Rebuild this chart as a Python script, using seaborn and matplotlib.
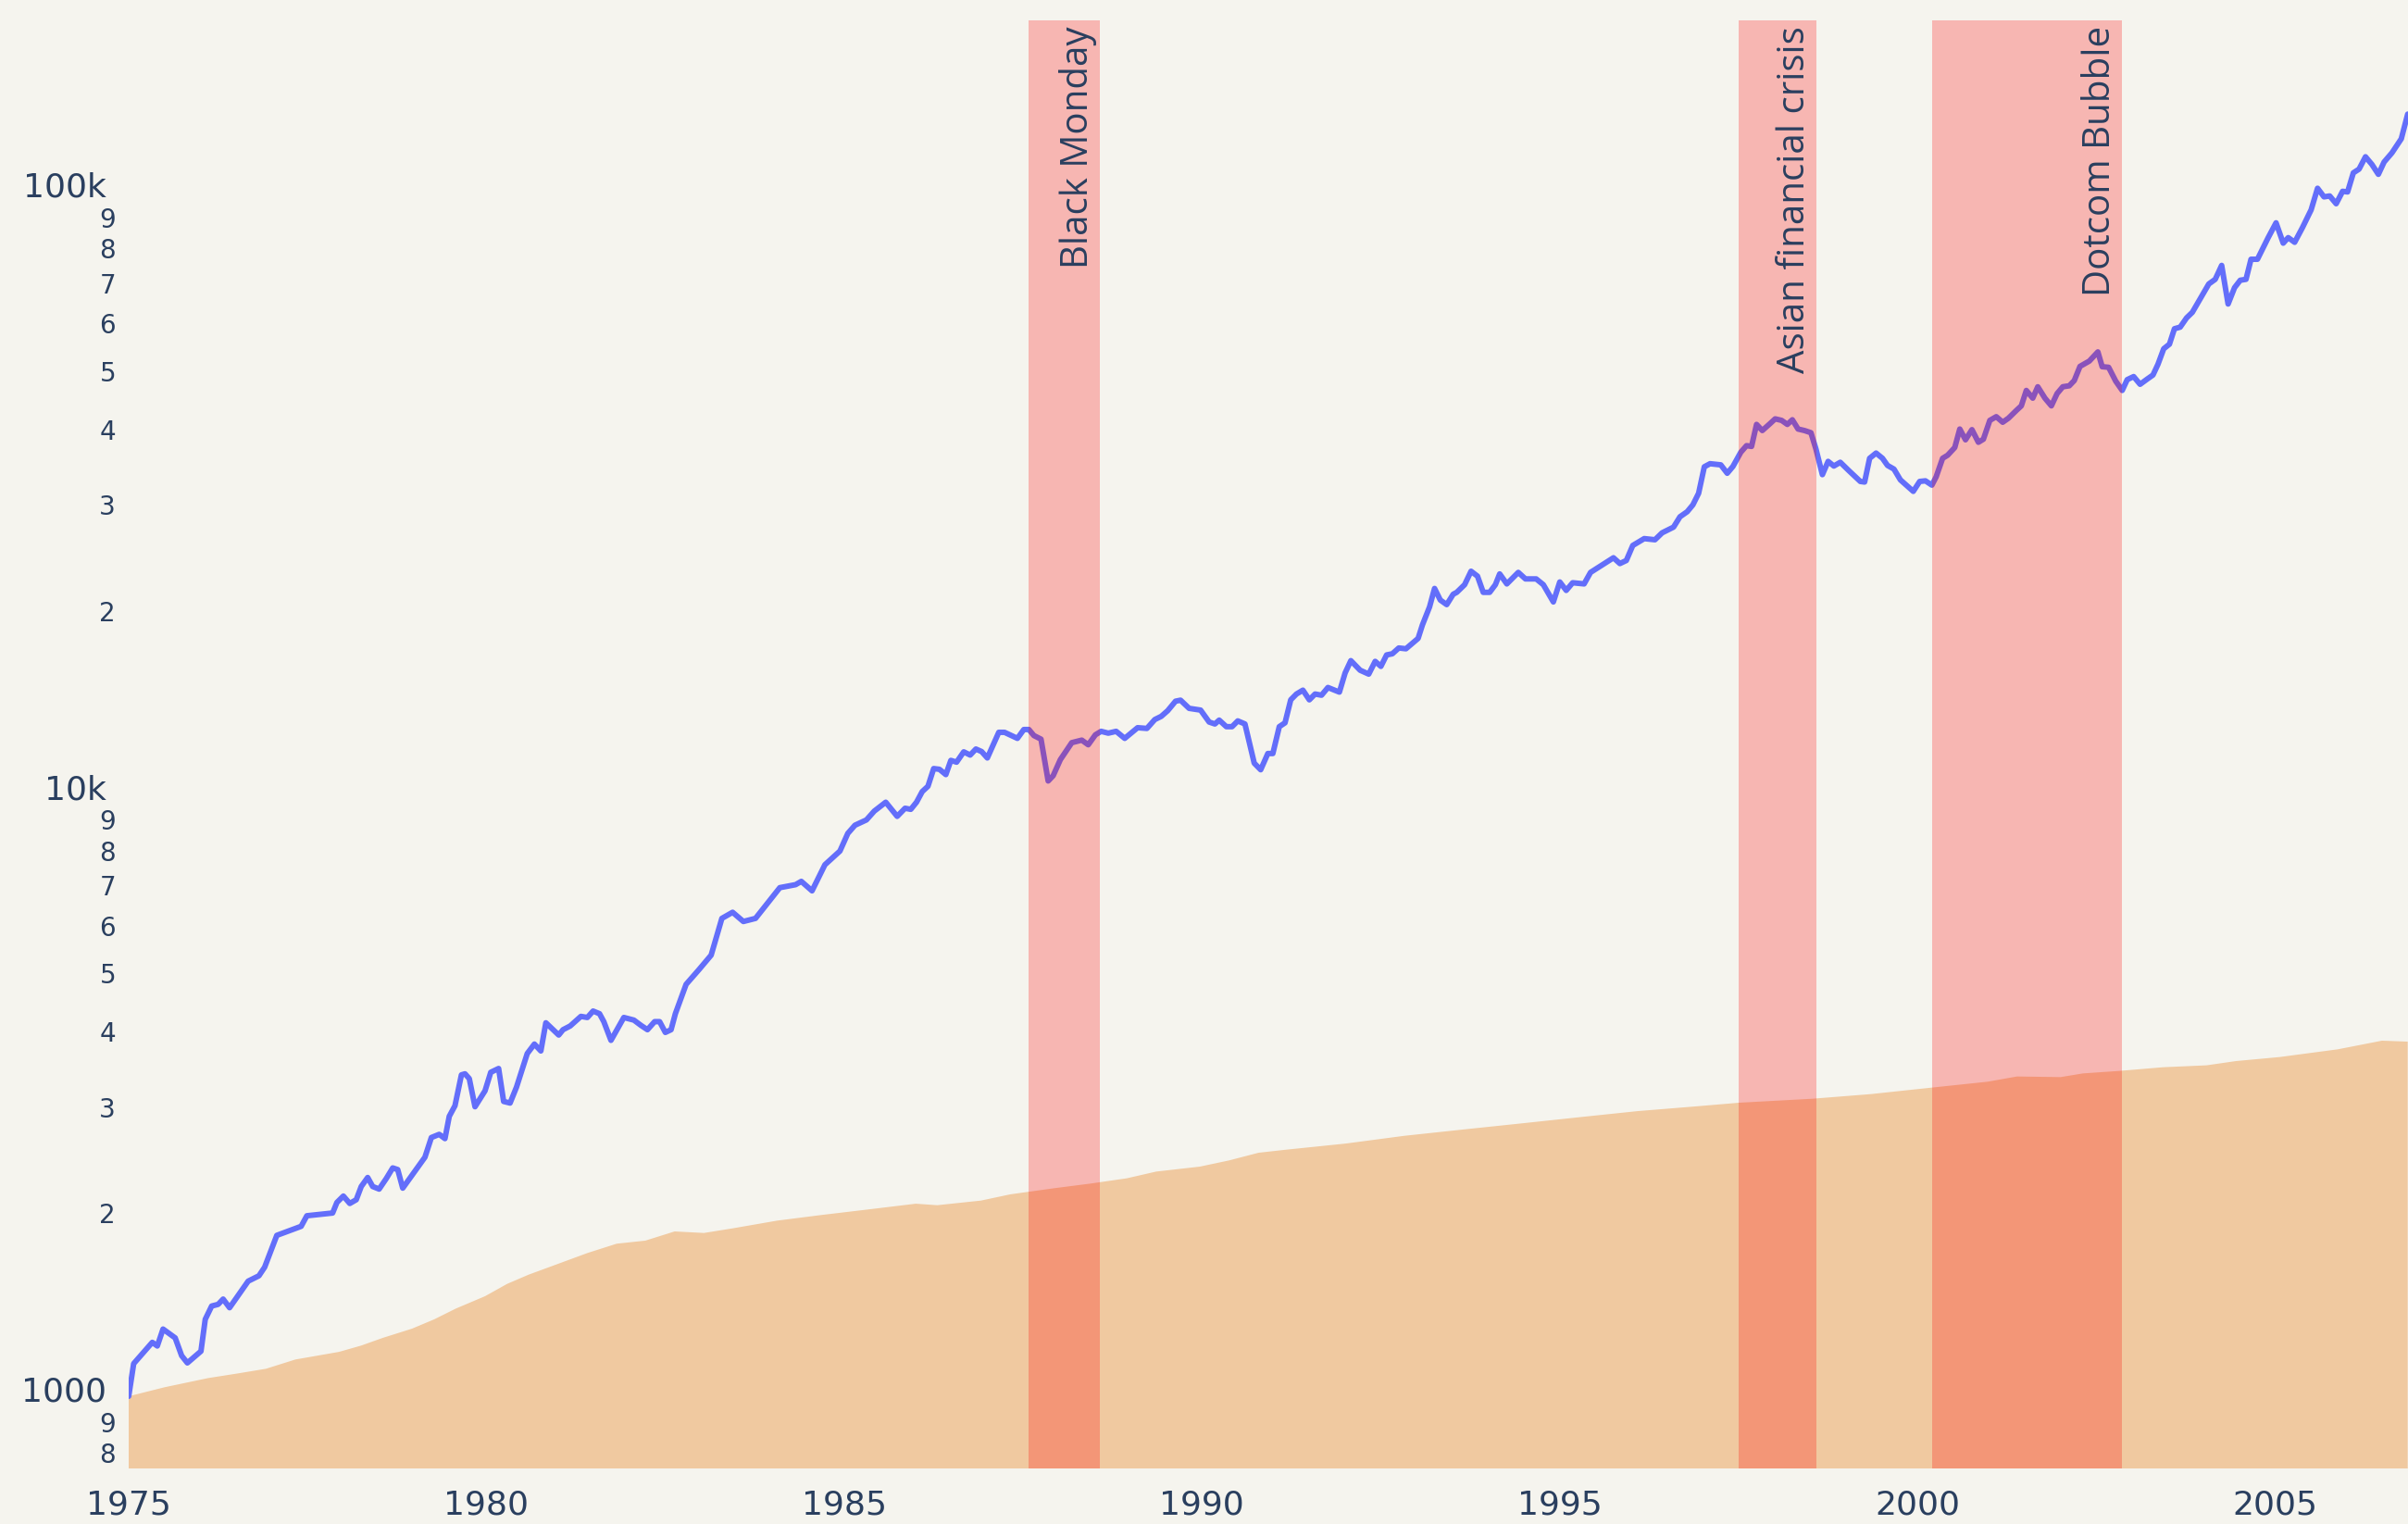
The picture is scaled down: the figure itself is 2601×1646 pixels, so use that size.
import matplotlib
matplotlib.use("Agg")
import matplotlib.pyplot as plt
from matplotlib.ticker import FixedLocator, FixedFormatter
from matplotlib.transforms import ScaledTranslation
import seaborn as sns
import pandas as pd

# ---------------- data ----------------
portfolio_years = [
    1975.00, 1975.07, 1975.33, 1975.40, 1975.48, 1975.65, 1975.74, 1975.82, 1976.01, 1976.07,
    1976.16, 1976.25, 1976.32, 1976.41, 1976.67, 1976.82, 1976.90, 1977.07, 1977.41, 1977.49,
    1977.85, 1977.91, 1978.00, 1978.09, 1978.18, 1978.25, 1978.34, 1978.41, 1978.50, 1978.60,
    1978.69, 1978.76, 1978.83, 1979.14, 1979.23, 1979.34, 1979.42, 1979.48, 1979.56, 1979.65,
    1979.70, 1979.76, 1979.84, 1979.98, 1980.06, 1980.17, 1980.24, 1980.33, 1980.42, 1980.57,
    1980.67, 1980.76, 1980.83, 1981.01, 1981.07, 1981.17, 1981.32, 1981.41, 1981.49, 1981.58,
    1981.64, 1981.74, 1981.92, 1982.06, 1982.16, 1982.25, 1982.35, 1982.42, 1982.50, 1982.58,
    1982.64, 1982.79, 1982.97, 1983.14, 1983.29, 1983.44, 1983.59, 1983.76, 1983.93, 1984.10,
    1984.32, 1984.40, 1984.55, 1984.73, 1984.94,
    1985.05, 1985.15, 1985.31, 1985.42, 1985.58, 1985.74, 1985.85, 1985.93, 1986.01, 1986.09,
    1986.17, 1986.25, 1986.33, 1986.42, 1986.49, 1986.57, 1986.67, 1986.76, 1986.84, 1986.92,
    1987.00, 1987.16, 1987.24, 1987.42, 1987.51, 1987.58, 1987.65, 1987.75, 1987.85, 1987.92,
    1988.02, 1988.18, 1988.32, 1988.41, 1988.51, 1988.59, 1988.69, 1988.80, 1988.92, 1989.10,
    1989.23, 1989.34, 1989.43, 1989.52, 1989.63, 1989.70, 1989.82, 1989.98,
    1990.10, 1990.18, 1990.24, 1990.34, 1990.42, 1990.50, 1990.60, 1990.73, 1990.82, 1990.92,
    1990.99, 1991.08, 1991.16, 1991.24, 1991.32, 1991.41, 1991.50, 1991.58, 1991.67, 1991.76,
    1991.92, 1992.00, 1992.08, 1992.21, 1992.33, 1992.42, 1992.50, 1992.58, 1992.66, 1992.75,
    1992.85, 1993.02, 1993.08, 1993.18, 1993.25, 1993.33, 1993.42, 1993.51, 1993.56, 1993.67,
    1993.76, 1993.85, 1993.93, 1994.02, 1994.10, 1994.16, 1994.26, 1994.42, 1994.52, 1994.67,
    1994.77, 1994.91, 1995.00, 1995.09, 1995.18, 1995.34, 1995.43, 1995.54, 1995.75, 1995.84,
    1995.93, 1996.02, 1996.18, 1996.33, 1996.43, 1996.59, 1996.68, 1996.78, 1996.86, 1996.94,
    1997.02, 1997.10, 1997.25, 1997.34, 1997.42, 1997.53, 1997.61, 1997.68,
    1997.75, 1997.83, 1997.94, 1998.01, 1998.10, 1998.18, 1998.25, 1998.33, 1998.42, 1998.51,
    1998.58, 1998.67, 1998.75, 1998.83, 1998.92, 1999.04, 1999.20, 1999.26, 1999.33, 1999.42,
    1999.51, 1999.58, 1999.67, 1999.76, 1999.94, 2000.03, 2000.11, 2000.20, 2000.26, 2000.35,
    2000.42, 2000.52, 2000.59, 2000.67, 2000.76, 2000.85, 2000.92, 2001.01, 2001.10, 2001.19,
    2001.27, 2001.38, 2001.45, 2001.52, 2001.61, 2001.68, 2001.78, 2001.87, 2001.95, 2002.03,
    2002.12, 2002.19, 2002.27, 2002.40, 2002.52, 2002.58, 2002.67, 2002.77, 2002.86, 2002.93,
    2003.02, 2003.11, 2003.21, 2003.29, 2003.36, 2003.44, 2003.52,
    2003.59, 2003.67, 2003.76, 2003.84, 2003.95, 2004.07, 2004.16, 2004.25, 2004.34, 2004.43,
    2004.51, 2004.59, 2004.66, 2004.75, 2004.90, 2005.01, 2005.11, 2005.18, 2005.27, 2005.38,
    2005.50, 2005.59, 2005.68, 2005.76, 2005.85, 2005.94, 2006.01, 2006.09, 2006.17, 2006.26,
    2006.35, 2006.44, 2006.52, 2006.63, 2006.76, 2006.85,
]
portfolio_values = [
    1000, 1133, 1229, 1212, 1293, 1250, 1168, 1136, 1188, 1342,
    1412, 1421, 1450, 1403, 1553, 1585, 1638, 1850, 1915, 1994,
    2015, 2098, 2150, 2090, 2120, 2230, 2308, 2230, 2208, 2299,
    2394, 2379, 2216, 2494, 2689, 2722, 2678, 2916, 3037, 3417,
    3431, 3368, 3025, 3215, 3451, 3501, 3087, 3068, 3261, 3707,
    3844, 3744, 4170, 3979, 4061, 4119, 4273, 4255, 4361, 4317,
    4188, 3899, 4255, 4213, 4128, 4061, 4188, 4188, 4019, 4061,
    4317, 4830, 5110, 5400, 6215, 6362, 6142, 6215, 6590, 6990,
    7070, 7160, 6906, 7630, 8040,
    8601, 8874, 9056, 9367, 9690, 9180, 9469, 9430, 9690, 10092,
    10299, 11020, 10990, 10770, 11370, 11294, 11748, 11605, 11875, 11760,
    11477, 12658, 12658, 12369, 12795, 12795, 12504, 12331, 10510, 10725,
    11402, 12168, 12286, 12070, 12539, 12706, 12618, 12706, 12369, 12884,
    12848, 13291, 13454, 13748, 14257, 14313, 13873, 13781,
    13166, 13069, 13263, 12935, 12935, 13223, 13069, 11250, 10971, 11673,
    11673, 12935, 13126, 14333, 14654, 14872, 14333, 14654, 14588, 15024,
    14762, 15884, 16648, 16049, 15813, 16602, 16289, 17017, 17092, 17474,
    17422, 18126, 19081, 20446, 21940, 20989, 20625, 21458, 21617, 22259,
    23433, 22994, 21617, 21617, 22259, 23195, 22326, 23330, 22756, 22756,
    22259, 20839, 22491, 21778, 22424, 22326, 23330, 23779, 24671, 24131,
    24416, 25858, 26546, 26430, 27139, 27739, 28859, 29416, 30203, 31563,
    34935, 35347, 35192, 34081, 34984, 36937, 37875, 37760,
    41078, 40125, 41220, 41958, 41716, 41078, 41813, 40357, 40125, 39794,
    37382, 33900, 35662, 35035, 35540, 34420, 33030, 32955, 36083, 36814,
    36083, 35116, 34627, 33228, 31804, 33030, 33105, 32567, 33620, 36083,
    36510, 37606, 40357, 38729, 40264, 38365, 38819, 41716, 42307, 41420,
    42064, 43322, 44098, 46774, 45415, 47436, 45415, 44098, 46217, 47436,
    47612, 48575, 51277, 52327, 54200, 51218, 51100, 48452, 46774, 48743,
    49319, 47886, 48856, 49615, 51704, 54853, 55821,
    59220, 59580, 61730, 63050, 66400, 70270, 71530, 75440, 65090, 69290,
    71280, 71530, 77230, 77230, 83890, 88780, 82130, 83890, 82410, 87220,
    93280, 101320, 98040, 98380, 95500, 100140, 99910, 107470, 109010, 114280,
    110960, 106860, 112010, 116020, 122400, 134520,
]

contrib_years = [
    1975.00, 1975.50, 1976.11, 1976.52, 1976.92, 1977.33, 1977.94, 1978.25, 1978.55, 1978.96,
    1979.27, 1979.57, 1979.98, 1980.29, 1980.59, 1981.00, 1981.41, 1981.82, 1982.22, 1982.63,
    1983.04, 1983.45, 1984.06, 1984.67, 1985.28, 1986.00, 1986.30, 1986.91, 1987.32, 1987.93,
    1988.44, 1988.95, 1989.36, 1989.97, 1990.38, 1990.79, 1991.19, 1992.01, 1992.83, 1993.64,
    1994.46, 1995.27, 1996.09, 1996.90, 1997.51, 1998.53, 1999.35, 2000.16, 2000.98, 2001.39,
    2002.00, 2002.31, 2002.82, 2003.43, 2004.04, 2004.45, 2005.06, 2005.87, 2006.49, 2006.85,
]
contrib_values = [
    1000, 1035, 1072, 1091, 1111, 1151, 1185, 1214, 1250, 1295,
    1342, 1398, 1466, 1537, 1592, 1659, 1729, 1792, 1813, 1878,
    1867, 1901, 1957, 1999, 2039, 2088, 2076, 2113, 2164, 2215,
    2255, 2301, 2361, 2406, 2464, 2537, 2568, 2628, 2707, 2772,
    2838, 2906, 2975, 3029, 3072, 3119, 3175, 3251, 3329, 3396,
    3388, 3436, 3469, 3518, 3544, 3602, 3658, 3767, 3894, 3880,
]

event_names = ["Black Monday", "Asian financial crisis", "Dotcom Bubble"]
event_starts = [1987.58, 1997.50, 2000.20]
event_ends = [1988.57, 1998.59, 2002.86]

x_ticks = [1975, 1980, 1985, 1990, 1995, 2000, 2005]
y_major = [1000, 10000, 100000]
y_major_labels = ["1000", "10k", "100k"]
y_minor = [800, 900, 2000, 3000, 4000, 5000, 6000, 7000, 8000, 9000,
           20000, 30000, 40000, 50000, 60000, 70000, 80000, 90000]
y_minor_labels = ["8", "9", "2", "3", "4", "5", "6", "7", "8", "9",
                  "2", "3", "4", "5", "6", "7", "8", "9"]

# ---------------- style ----------------
BG = "#F5F4EE"
TXT = "#2a3f5f"
sns.set_theme(style="white")
plt.rcParams["font.family"] = ["DejaVu Sans"]

fig = plt.figure(figsize=(26.01, 16.46), dpi=100, facecolor=BG)
ax = fig.add_axes([139 / 2601, 1 - 1586 / 1646, 1 - 139 / 2601, (1586 - 22) / 1646])
ax.set_facecolor(BG)
ax.set_yscale("log")

# contributions area
ax.fill_between(contrib_years, 1, contrib_values, color="#F0C9A0", linewidth=0, zorder=1)

# portfolio line
df = pd.DataFrame({"year": portfolio_years, "value": portfolio_values})
sns.lineplot(data=df, x="year", y="value", ax=ax, color="#636EFA", linewidth=4.3,
             sort=False, estimator=None, zorder=2)

# event bands + labels
for name, s, e in zip(event_names, event_starts, event_ends):
    ax.axvspan(s, e, ymin=0, ymax=1, color="red", alpha=0.25, linewidth=0, zorder=3)
    ax.annotate(name, xy=(e, 1), xycoords=("data", "axes fraction"),
                xytext=(-3, -6), textcoords="offset pixels",
                rotation=90, ha="right", va="top", fontsize=29,
                family=["Open Sans", "DejaVu Sans"], color=TXT, zorder=4)

ax.set_xlim(1975.0, 2006.854)
ax.set_ylim(758.9, 192500)

ax.xaxis.set_major_locator(FixedLocator(x_ticks))
ax.xaxis.set_major_formatter(FixedFormatter([str(t) for t in x_ticks]))
ax.yaxis.set_major_locator(FixedLocator(y_major))
ax.yaxis.set_major_formatter(FixedFormatter(y_major_labels))
ax.yaxis.set_minor_locator(FixedLocator(y_minor))
ax.yaxis.set_minor_formatter(FixedFormatter(y_minor_labels))

ax.tick_params(axis="x", which="major", length=0, pad=16.5, labelsize=26, labelcolor=TXT)
ax.tick_params(axis="y", which="major", length=0, pad=17.3, labelsize=26, labelcolor=TXT)
ax.tick_params(axis="y", which="minor", length=0, pad=10, labelsize=20, labelcolor=TXT)

# nudge y tick labels slightly upward, as in the reference
up_major = ScaledTranslation(0, 8 / 100, fig.dpi_scale_trans)
up_minor = ScaledTranslation(0, 2 / 100, fig.dpi_scale_trans)
for lab in ax.yaxis.get_majorticklabels():
    lab.set_transform(lab.get_transform() + up_major)
for lab in ax.yaxis.get_minorticklabels():
    lab.set_transform(lab.get_transform() + up_minor)

ax.set_xlabel("")
ax.set_ylabel("")
ax.grid(False)
for sp in ax.spines.values():
    sp.set_visible(False)
if ax.get_legend() is not None:
    ax.get_legend().remove()

fig.savefig("out.png", dpi=100, facecolor=BG)
